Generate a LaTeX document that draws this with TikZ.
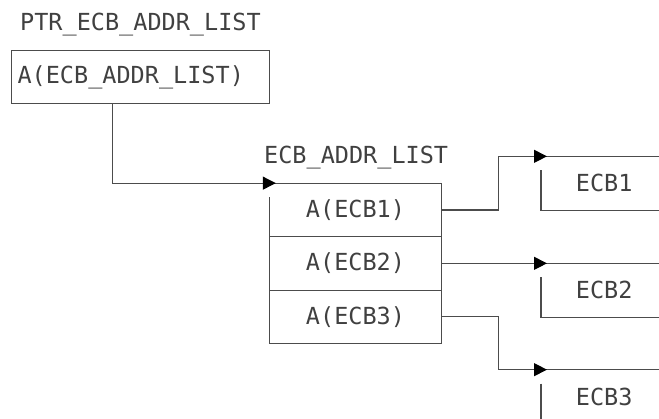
\documentclass[tikz,border=0pt]{standalone}
\usepackage{fontspec}
\setmonofont{DejaVu Sans Mono}
\usetikzlibrary{arrows.meta}

\begin{document}
\begin{tikzpicture}[x=1pt,y=-1pt,
  every node/.style={font=\ttfamily\fontsize{23.5}{28}\selectfont, text=black!75},
  wire/.style={line width=1.1pt, draw=black!70},
  ptrarrow/.style={wire, -{Triangle[length=13pt,width=13pt,color=black]}},
  cell/.style={minimum width=171pt, minimum height=53.33pt, inner sep=0pt},
  ctlblock/.style={anchor=north west, minimum width=126pt, minimum height=53.33pt, inner sep=0pt}]

\clip (0,0) rectangle (659,418);

%%%%%%%%%%%%%%%%%%%
% The pointer

\node[anchor=base west, inner sep=0pt] (ptrlbl) at (20,30) {PTR\_ECB\_ADDR\_LIST};
\node[draw=black!70, line width=1.1pt, anchor=north west, minimum height=53pt,
      text width=246pt, align=left, inner xsep=6pt] (ptr) at (11,50) {A(ECB\_ADDR\_LIST)};

%%%%%%%%%%%%%%%%%%%
% The address list

\node[anchor=base west, inner sep=0pt] (listlbl) at (264,163) {ECB\_ADDR\_LIST};
\node[cell] (c1) at (355.5,210) {A(ECB1)};
\node[cell] (c2) at (355.5,263.33) {A(ECB2)};
\node[cell] (c3) at (355.5,316.67) {A(ECB3)};

\draw[wire] ([yshift=-14pt]c1.north west) -- (c3.south west) -- (c3.south east) -- (c1.north east) -- (c1.north west);
\draw[wire] (c1.south west) -- (c1.south east);
\draw[wire] (c2.south west) -- (c2.south east);

\draw[ptrarrow] ([xshift=-28pt]ptr.south) |- ([xshift=6pt]c1.north west);

%%%%%%%%%%%%%%%%%%%
% The ECBs

\node[ctlblock] (e1) at (541,156.33) {ECB1};
\node[ctlblock] (e2) at (541,263.33) {ECB2};
\node[ctlblock] (e3) at (541,369.67) {ECB3};

\draw[wire] (e1.north west) -- (e1.north east);
\draw[wire] ([yshift=-14pt]e1.north west) -- (e1.south west) -- (e1.south east);
\draw[wire] (e2.north west) -- (e2.north east);
\draw[wire] ([yshift=-14pt]e2.north west) -- (e2.south west) -- (e2.south east);
\draw[wire] (e3.north west) -- (e3.north east);
\draw[wire] ([yshift=-14pt]e3.north west) -- (e3.south west);

\draw[ptrarrow] (c1.east) -- ++(57,0) |- ([xshift=6pt]e1.north west);
\draw[ptrarrow] (c2.east) -- ([xshift=6pt]e2.north west);
\draw[ptrarrow] (c3.east) -- ++(57,0) |- ([xshift=6pt]e3.north west);

\end{tikzpicture}
\end{document}
